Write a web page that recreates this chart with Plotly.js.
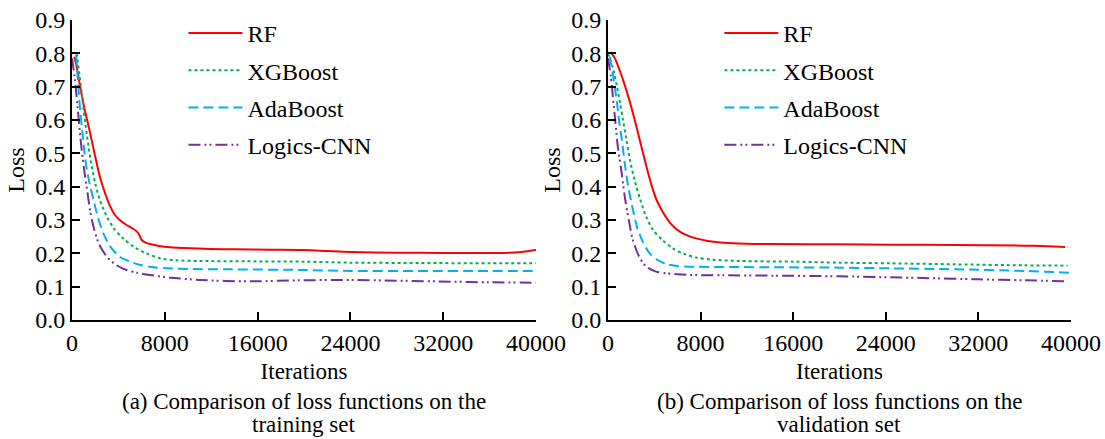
<!DOCTYPE html>
<html>
<head>
<meta charset="utf-8">
<script src="https://cdn.plot.ly/plotly-3.0.1.min.js"></script>
<style>html,body{margin:0;padding:0;background:#fff;}#chart{width:1105px;height:439px;}</style>
</head>
<body>
<div id="chart"></div>
<script>
// ---- Data ----
const seriesNames = ["RF", "XGBoost", "AdaBoost", "Logics-CNN"];
const xTickVals = [0, 8000, 16000, 24000, 32000, 40000];
const xTickText = ["0", "8000", "16000", "24000", "32000", "40000"];
const captionA = ["(a) Comparison of loss functions on the", "training set"];
const captionB = ["(b) Comparison of loss functions on the", "validation set"];

// (a) training set
const trainRF_x = [200, 400, 700, 1100, 1500, 2000, 2400, 2900, 3300, 3700, 4100, 4700, 5200, 5600, 5800, 6000, 6300, 6800, 7500, 8500, 9600, 12000, 14000, 17000, 20000, 22000, 24000, 28000, 32000, 36000, 38500, 40000];
const trainRF_y = [0.79, 0.76, 0.70, 0.63, 0.57, 0.49, 0.43, 0.375, 0.34, 0.315, 0.30, 0.285, 0.275, 0.265, 0.255, 0.24, 0.233, 0.227, 0.222, 0.218, 0.216, 0.213, 0.212, 0.211, 0.210, 0.207, 0.204, 0.202, 0.201, 0.201, 0.203, 0.21];
const trainXGB_x = [400, 700, 1000, 1300, 1600, 2000, 2400, 3000, 3600, 4400, 5300, 6400, 7600, 9000, 11000, 15000, 20000, 24000, 30000, 36000, 40000];
const trainXGB_y = [0.80, 0.72, 0.63, 0.55, 0.48, 0.41, 0.36, 0.31, 0.275, 0.245, 0.22, 0.20, 0.185, 0.179, 0.177, 0.176, 0.175, 0.172, 0.171, 0.170, 0.170];
const trainAda_x = [350, 500, 700, 900, 1150, 1450, 1850, 2300, 2700, 3300, 4100, 5000, 5900, 7000, 8200, 10000, 13400, 20000, 24000, 30000, 36000, 40000];
const trainAda_y = [0.795, 0.72, 0.63, 0.56, 0.48, 0.42, 0.36, 0.30, 0.26, 0.22, 0.19, 0.175, 0.165, 0.158, 0.155, 0.153, 0.152, 0.150, 0.147, 0.147, 0.147, 0.147];
const trainCNN_x = [0, 250, 500, 800, 1050, 1300, 1550, 1850, 2300, 3000, 3800, 4700, 5600, 6700, 8500, 11000, 15300, 19600, 24000, 28000, 32600, 36000, 40000];
const trainCNN_y = [0.785, 0.72, 0.63, 0.52, 0.45, 0.39, 0.33, 0.28, 0.23, 0.19, 0.165, 0.15, 0.142, 0.135, 0.127, 0.12, 0.116, 0.119, 0.12, 0.118, 0.115, 0.113, 0.112];

// (b) validation set
const valRF_x = [300, 600, 1000, 1400, 1800, 2200, 2600, 3000, 3400, 3800, 4200, 4800, 5400, 6200, 7100, 8500, 10000, 12000, 14300, 20000, 24400, 30000, 35900, 38000, 39500];
const valRF_y = [0.80, 0.785, 0.75, 0.71, 0.665, 0.615, 0.56, 0.505, 0.45, 0.40, 0.36, 0.32, 0.29, 0.265, 0.25, 0.238, 0.232, 0.229, 0.228, 0.227, 0.226, 0.225, 0.223, 0.221, 0.219];
const valXGB_x = [0, 400, 750, 1050, 1300, 1600, 1900, 2300, 2800, 3300, 3900, 4700, 5600, 6600, 7700, 9000, 11400, 16000, 20000, 24400, 30000, 36000, 39700];
const valXGB_y = [0.80, 0.76, 0.705, 0.65, 0.60, 0.54, 0.48, 0.42, 0.36, 0.31, 0.27, 0.24, 0.215, 0.198, 0.187, 0.181, 0.177, 0.175, 0.172, 0.170, 0.167, 0.164, 0.163];
const valAda_x = [170, 450, 750, 950, 1200, 1450, 1750, 2100, 2500, 3000, 3600, 4300, 5100, 6000, 7100, 10000, 15000, 20000, 24400, 30000, 36000, 39900];
const valAda_y = [0.79, 0.73, 0.66, 0.60, 0.54, 0.47, 0.40, 0.34, 0.28, 0.235, 0.20, 0.18, 0.167, 0.162, 0.160, 0.159, 0.158, 0.157, 0.155, 0.152, 0.147, 0.142];
const valCNN_x = [0, 250, 450, 650, 850, 1150, 1450, 1800, 2150, 2700, 3300, 4100, 5100, 6000, 7100, 10000, 14300, 20000, 24400, 27200, 32000, 36000, 39700];
const valCNN_y = [0.785, 0.73, 0.66, 0.59, 0.52, 0.45, 0.37, 0.30, 0.24, 0.19, 0.16, 0.146, 0.14, 0.137, 0.135, 0.134, 0.133, 0.131, 0.128, 0.126, 0.122, 0.119, 0.116];

// ---- Styles ----
const colors = ["#ff0000", "#00b050", "#00b0f0", "#7030a0"];
const dashes = ["solid", "3px,3px", "10px,5px", "12px,4px,2px,3px,2px,4px"];
const FONT = "Liberation Serif";

const trainX = [trainRF_x, trainXGB_x, trainAda_x, trainCNN_x];
const trainY = [trainRF_y, trainXGB_y, trainAda_y, trainCNN_y];
const valX = [valRF_x, valXGB_x, valAda_x, valCNN_x];
const valY = [valRF_y, valXGB_y, valAda_y, valCNN_y];

const traces = [];
for (let i = 0; i < 4; i++) {
  traces.push({
    x: trainX[i], y: trainY[i], name: seriesNames[i], type: "scatter", mode: "lines",
    xaxis: "x", yaxis: "y", legend: "legend", legendgroup: "a" + i,
    line: {color: colors[i], width: 2, dash: dashes[i], shape: "spline", smoothing: 0.8}
  });
}
for (let i = 0; i < 4; i++) {
  traces.push({
    x: valX[i], y: valY[i], name: seriesNames[i], type: "scatter", mode: "lines",
    xaxis: "x2", yaxis: "y2", legend: "legend2", legendgroup: "b" + i,
    line: {color: colors[i], width: 2, dash: dashes[i], shape: "spline", smoothing: 0.8}
  });
}

function xAxis(domain, anchor) {
  return {
    domain: domain, anchor: anchor, range: [0, 40000],
    tickmode: "array", tickvals: xTickVals, ticktext: xTickText,
    ticks: "inside", ticklen: 8, tickwidth: 2, tickcolor: "#000",
    showline: true, linecolor: "#000", linewidth: 2,
    showgrid: false, zeroline: false,
    tickfont: {family: FONT, size: 24, color: "#000"},
    title: {text: "Iterations", font: {family: FONT, size: 23, color: "#000"}, standoff: 8}
  };
}
function yAxis(anchor) {
  return {
    domain: [0.2711, 0.9544], anchor: anchor, range: [0, 0.9],
    tickmode: "linear", tick0: 0, dtick: 0.1, tickformat: ".1f",
    ticks: "inside", ticklen: 8, tickwidth: 2, tickcolor: "#000",
    showline: true, linecolor: "#000", linewidth: 2,
    showgrid: false, zeroline: false,
    tickfont: {family: FONT, size: 24, color: "#000"},
    title: {text: "Loss", font: {family: FONT, size: 24, color: "#000"}, standoff: 4}
  };
}
function legendBox(x) {
  return {
    x: x, y: 0.975, xanchor: "left", yanchor: "top", xref: "paper", yref: "paper",
    bgcolor: "rgba(0,0,0,0)", borderwidth: 0, tracegroupgap: 3, itemwidth: 54,
    font: {family: FONT, size: 24, color: "#000"}
  };
}
function caption(lines, xc) {
  return [
    {text: lines[0], xref: "paper", yref: "paper", x: xc, y: 1 - 401 / 439,
     xanchor: "center", yanchor: "middle", showarrow: false,
     font: {family: FONT, size: 23, color: "#000"}},
    {text: lines[1], xref: "paper", yref: "paper", x: xc, y: 0,
     xanchor: "center", yanchor: "bottom", showarrow: false,
     font: {family: FONT, size: 23, color: "#000"}}
  ];
}

const layout = {
  width: 1105, height: 439,
  margin: {l: 0, r: 0, t: 0, b: 0},
  paper_bgcolor: "#fff", plot_bgcolor: "#fff",
  showlegend: true,
  xaxis: xAxis([0.0652, 0.4851], "y"),
  yaxis: yAxis("x"),
  xaxis2: xAxis([0.5502, 0.9692], "y2"),
  yaxis2: yAxis("x2"),
  legend: legendBox(0.166),
  legend2: legendBox(0.651),
  annotations: caption(captionA, 0.2751).concat(caption(captionB, 0.7597))
};

Plotly.newPlot("chart", traces, layout, {displayModeBar: false, staticPlot: true});
</script>
</body>
</html>
